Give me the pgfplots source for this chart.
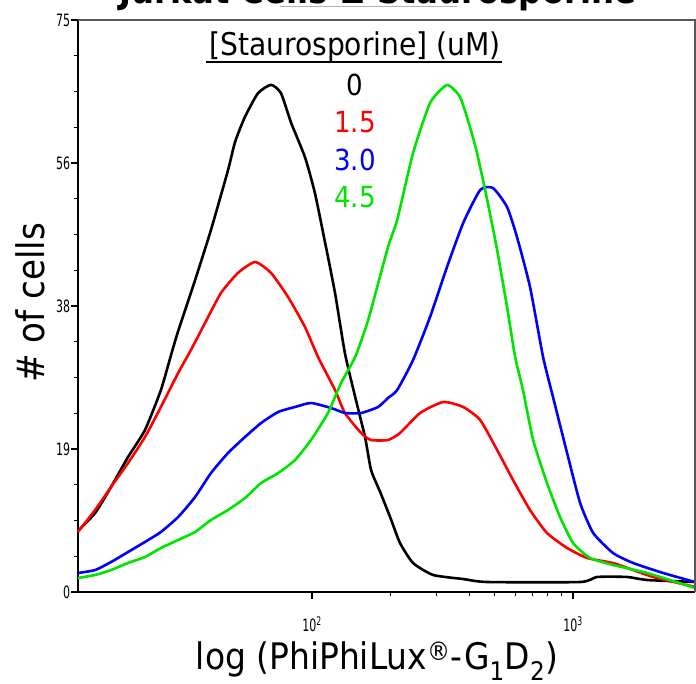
\documentclass[border=0pt]{standalone}
\usepackage{pgfplots}
\pgfplotsset{compat=1.18}
\usepackage{fontspec}
\setmainfont{DejaVu Sans Condensed}

\pgfplotstableread{
x y
1.103 8.00
1.169 10.36
1.230 13.77
1.295 17.70
1.360 21.24
1.421 26.48
1.460 31.10
1.487 34.20
1.552 40.90
1.613 47.50
1.678 55.30
1.705 59.00
1.743 62.30
1.793 65.40
1.843 66.50
1.881 65.40
1.920 61.50
1.973 57.00
2.011 52.30
2.050 45.80
2.088 39.20
2.126 31.30
2.165 25.60
2.203 20.30
2.226 16.00
2.261 13.10
2.299 9.83
2.337 6.42
2.387 3.80
2.464 2.23
2.579 1.70
2.671 1.31
3.027 1.31
3.092 1.97
3.207 1.97
3.284 1.57
3.467 1.31
}\zero

\pgfplotstableread{
x y
1.103 7.87
1.169 10.75
1.230 13.77
1.295 16.91
1.360 20.32
1.421 24.26
1.487 28.71
1.536 31.73
1.590 35.27
1.651 39.20
1.716 41.83
1.782 43.27
1.843 41.83
1.908 38.68
1.973 34.74
2.023 30.81
2.088 26.48
2.126 23.47
2.188 20.85
2.226 19.93
2.291 19.93
2.337 20.85
2.414 23.47
2.502 24.91
2.579 24.26
2.644 22.55
2.709 18.62
2.770 14.68
2.835 10.75
2.900 7.74
2.977 5.77
3.054 4.46
3.153 3.80
3.230 2.88
3.307 1.97
3.467 0.66
}\onefive

\pgfplotstableread{
x y
1.103 2.49
1.169 2.88
1.230 3.93
1.295 5.24
1.360 6.56
1.421 7.87
1.487 9.83
1.552 12.46
1.613 15.60
1.678 18.22
1.743 20.32
1.805 22.16
1.870 23.60
1.935 24.26
1.996 24.78
2.073 24.12
2.126 23.47
2.188 23.47
2.253 24.26
2.291 25.44
2.326 26.48
2.387 30.42
2.452 36.06
2.517 42.61
2.579 48.38
2.644 52.71
2.693 52.97
2.747 50.48
2.785 46.55
2.835 39.99
2.885 30.81
2.923 25.57
2.977 18.22
3.027 11.67
3.077 7.74
3.153 5.11
3.230 3.80
3.345 2.49
3.467 1.31
}\three

\pgfplotstableread{
x y
1.103 1.84
1.169 2.23
1.230 2.88
1.295 3.80
1.360 4.59
1.421 5.77
1.487 6.82
1.552 7.87
1.613 9.44
1.678 10.75
1.743 12.32
1.805 14.29
1.870 15.60
1.935 17.31
1.996 19.93
2.061 23.47
2.111 27.40
2.165 30.81
2.215 35.66
2.291 45.23
2.326 48.77
2.387 57.56
2.452 64.11
2.517 66.47
2.567 64.90
2.605 60.97
2.632 57.56
2.671 51.40
2.709 44.84
2.747 37.37
2.778 30.81
2.808 26.48
2.847 19.93
2.900 14.29
2.950 9.83
3.000 6.42
3.065 4.46
3.153 3.54
3.284 2.49
3.467 0.52
}\fourfive

\begin{document}
\begin{tikzpicture}[x=1pt,y=1pt]
\begin{axis}[
  at={(78pt,92pt)}, anchor=south west,
  scale only axis, width=617pt, height=572pt,
  xmin=1.1034, xmax=3.467, ymin=0, ymax=75,
  axis lines*=left,
  axis line style={line width=2.5pt, black},
  clip=false,
  tick align=outside,
  major tick length=7pt, minor tick length=4.5pt,
  every tick/.style={line width=1.3pt, black},
  ytick={0,18.75,37.5,56.25,75},
  yticklabels={0,19,38,56,75},
  minor y tick num=3,
  xtick={2,3},
  xticklabels={10\textsuperscript{2},10\textsuperscript{3}},
  minor xtick={2.30103,2.47712,2.60206,2.69897,2.77815,2.84510,2.90309,2.95424},
  yticklabel style={font=\fontsize{17}{17}\selectfont, xscale=0.72, inner sep=1pt},
  xticklabel style={font=\fontsize{17}{17}\selectfont, xscale=0.72, yshift=-14pt},
  every axis plot/.append style={line width=2.6pt, line join=round, smooth, tension=0.35},
]
\addplot[black] table {\zero};
\addplot[red] table {\onefive};
\addplot[blue] table {\three};
\addplot[green!90!black] table {\fourfive};
\draw[line width=1.8pt, black!65] (rel axis cs:0,1) -- (rel axis cs:1,1) -- (rel axis cs:1,0);
\end{axis}

\node[anchor=base, font=\bfseries\fontsize{36}{40}\selectfont] at (378,680) {Jurkat Cells ± Staurosporine};
\draw[gray!60, line width=1pt] (280,677) -- (457,677);

\node[font=\fontsize{31.3}{36}\selectfont] at (355,637) {[Staurosporine] (uM)};
\draw[line width=2pt] (206,622) -- (502,622);
\node[font=\fontsize{29}{34}\selectfont, text=black] at (355,599) {0};
\node[font=\fontsize{29}{34}\selectfont, text=red] at (355,562) {1.5};
\node[font=\fontsize{29}{34}\selectfont, text=blue] at (355,524) {3.0};
\node[font=\fontsize{29}{34}\selectfont, text=green!90!black] at (355,487) {4.5};

\node[rotate=90, font=\fontsize{38}{44}\selectfont] at (30,381) {\# of cells};
\node[anchor=base, font=\fontsize{36.6}{44}\selectfont] at (377,14) {log (PhiPhiLux\textsuperscript{®}-G\textsubscript{1}D\textsubscript{2})};

\pgfresetboundingbox
\path[use as bounding box] (0,0) rectangle (696,684);
\end{tikzpicture}
\end{document}
